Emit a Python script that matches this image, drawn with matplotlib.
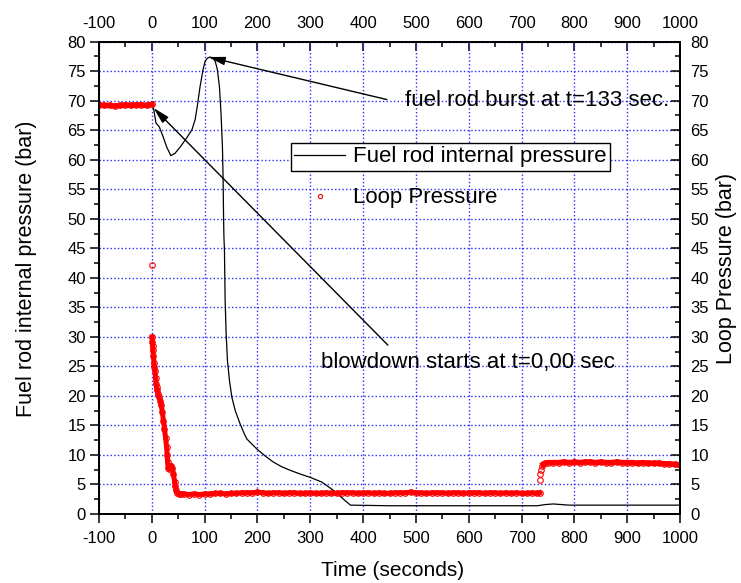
import numpy as np
import matplotlib
matplotlib.use('Agg')
from matplotlib import pyplot as plt
from matplotlib.ticker import MultipleLocator, FixedLocator

plt.rcParams['font.family'] = ['Liberation Sans', 'DejaVu Sans']
plt.rcParams['axes.unicode_minus'] = False

# fuel rod internal pressure (bar), black line
rod_t = [-100, 0, 3, 8, 14, 21, 28, 36, 44, 54, 66, 76, 82, 86, 91, 97, 101, 105, 110,
         115, 120, 124, 128, 131, 133.7, 135.0, 135.8, 136.5, 137.5, 138.8, 140.7, 143.2,
         147, 151.5, 158, 167, 175, 180, 190, 199, 215, 230, 246, 262, 280, 300, 322,
         344, 363, 376, 450, 550, 650, 730, 745, 760, 775, 790, 1000]
rod_p = [69.0, 69.0, 68.8, 66.2, 65.6, 64.0, 62.2, 60.7, 61.1, 62.2, 63.7, 65.1, 66.8,
         69.0, 72.2, 75.3, 76.7, 77.2, 77.4, 77.3, 76.7, 75.3, 72.4, 67.9, 62.2, 56.6,
         50.5, 47.0, 44.7, 36.2, 30.6, 26.0, 22.6, 19.8, 17.5, 15.3, 13.6, 12.7, 11.8,
         11.0, 9.8, 8.8, 8.0, 7.4, 6.8, 6.2, 5.4, 4.0, 2.5, 1.5, 1.4, 1.4, 1.4, 1.4,
         1.6, 1.7, 1.6, 1.5, 1.5]

# loop pressure (bar), red circles
pre_t = [-100, -90, -80, -70, -60, -50, -40, -30, -20, -10, 0]
pre_p = [69.3, 69.2, 69.2, 69.1, 69.2, 69.3, 69.2, 69.3, 69.3, 69.2, 69.4]

spike_t = [0.5]
spike_p = [42.2]

blow_t = [0.5, 1, 1.5, 2, 3, 4, 5, 6, 7, 8, 9, 10, 12, 14, 16, 18, 20, 22, 24, 26, 28,
          29, 30, 31, 33, 35, 37, 39, 41, 43, 44, 46, 48, 52, 56] + list(range(60, 731, 10)) + [734]
blow_p = [30.0, 29.2, 28.5, 27.7, 26.8, 25.6, 24.9, 24.3, 23.0, 22.0, 21.5, 21.0, 20.3,
          19.8, 19.2, 18.4, 17.2, 15.8, 14.4, 12.9, 11.3, 10.0, 8.8, 7.8, 7.6, 8.2, 8.2,
          7.8, 6.8, 5.5, 4.8, 4.0, 3.6, 3.4, 3.4,
          3.4, 3.3, 3.4, 3.3, 3.4, 3.4, 3.5, 3.5, 3.4, 3.5, 3.5, 3.6, 3.6, 3.6, 3.7, 3.6,
          3.5, 3.6, 3.6, 3.5, 3.6, 3.6, 3.5, 3.5, 3.6, 3.5, 3.5, 3.6, 3.5, 3.5, 3.6, 3.6,
          3.6, 3.5, 3.6, 3.6, 3.5, 3.6, 3.5, 3.5, 3.6, 3.6, 3.6, 3.7, 3.6, 3.6, 3.5, 3.6,
          3.6, 3.6, 3.5, 3.6, 3.6, 3.5, 3.6, 3.6, 3.6, 3.5, 3.6, 3.6, 3.5, 3.6, 3.5, 3.6,
          3.5, 3.5, 3.6, 3.5, 3.6]

jump_t = [734.5, 735.2, 736.5, 738.5]
jump_p = [5.8, 6.7, 7.5, 8.1]

post_t = [741, 745, 750] + list(range(760, 1001, 10))
post_p = [8.4, 8.6, 8.7, 8.7, 8.7, 8.8, 8.7, 8.8, 8.7, 8.8, 8.8, 8.7, 8.8, 8.7, 8.7, 8.8,
          8.7, 8.7, 8.7, 8.6, 8.7, 8.6, 8.6, 8.6, 8.5, 8.5, 8.4, 8.3]

x_ticks = list(range(-100, 1001, 100))
y_ticks = list(range(0, 81, 5))

red = '#ff0000'

fig = plt.figure(figsize=(7.41, 5.83), dpi=100)
ax = fig.add_axes([99/741, 69/583, 581/741, 472.3/583])
ax2 = ax.twinx()

ax.set_axisbelow(True)
ax.grid(True, which='major', color='#2a2aff', linestyle=':', linewidth=1.0)

rod_line, = ax.plot(rod_t, rod_p, color='black', lw=0.9)

mk = dict(marker='o', mfc='none', mec=red, ms=4.0, mew=0.8)
ax2.plot(pre_t, pre_p, color=red, lw=4.0, **mk)
ax2.plot(spike_t, spike_p, ls='none', **mk)
ax2.plot(blow_t, blow_p, color=red, lw=3.6, **mk)
ax2.plot(jump_t, jump_p, ls='none', **mk)
ax2.plot(post_t, post_p, color=red, lw=4.0, **mk)
loop_handle, = ax2.plot([], [], ls='none', marker='o', mfc='none', mec=red, ms=3.0, mew=0.8)

for a in (ax, ax2):
    a.set_xlim(-100, 1000)
    a.set_ylim(0, 80)
    a.set_yticks(y_ticks)
    a.yaxis.set_minor_locator(MultipleLocator(2.5))
ax.set_xticks(x_ticks)
ax.xaxis.set_minor_locator(MultipleLocator(50))

ax.tick_params(which='major', direction='out', length=6.5, width=1.1, labelsize=12, pad=3)
ax.tick_params(which='minor', direction='out', length=3.3, width=1.1)
ax.tick_params(axis='x', which='major', pad=5.5)
ax2.tick_params(which='major', direction='in', length=6.5, width=1.1, labelsize=12, pad=7.5)
ax2.tick_params(which='minor', direction='in', length=3.3, width=1.1)

top = ax.secondary_xaxis('top')
top.set_xticks(x_ticks)
top.xaxis.set_minor_locator(FixedLocator(list(range(-50, 1000, 100))))
top.tick_params(which='major', direction='in', length=6.5, width=1.1, labelsize=12, pad=7.5)
top.tick_params(which='minor', direction='in', length=3.3, width=1.1)

for a in (ax, ax2, top):
    for s in a.spines.values():
        s.set_linewidth(1.4)

ax.set_xlabel('Time (seconds)', fontsize=15)
ax.xaxis.set_label_coords(0.505, -0.10)
ax.set_ylabel('Fuel rod internal pressure (bar)', fontsize=15.5)
ax.yaxis.set_label_coords(-0.107, 0.52)
ax2.set_ylabel('Loop Pressure (bar)', fontsize=15.5)
ax2.yaxis.set_label_coords(1.062, 0.52)

arrow = dict(arrowstyle='-|>,head_length=1.0,head_width=0.25', color='black', lw=1.0,
             shrinkA=0, shrinkB=0, mutation_scale=10)
ax.annotate('', xy=(107, 77.4), xytext=(445, 70.2), arrowprops=arrow)
ax.text(479.5, 70.0, 'fuel rod burst at t=133 sec.', fontsize=16, va='center', ha='left')
ax.annotate('', xy=(3, 68.8), xytext=(447, 28.6), arrowprops=arrow)
ax.text(320, 25.6, 'blowdown starts at t=0,00 sec', fontsize=16, va='center', ha='left')

leg_kw = dict(loc='upper left', bbox_transform=fig.transFigure, borderpad=0.15,
              borderaxespad=0, handlelength=2.3, handletextpad=0.35, fontsize=16)
leg1 = ax2.legend([rod_line], ['Fuel rod internal pressure'], bbox_to_anchor=(291/741, 1-143/583),
                  frameon=True, fancybox=False, edgecolor='black', framealpha=1, **leg_kw)
leg1.get_frame().set_linewidth(1.0)
ax2.add_artist(leg1)
leg2 = ax2.legend([loop_handle], ['Loop Pressure'], bbox_to_anchor=(291/741, 1-184/583),
                  frameon=False, numpoints=1, **leg_kw)

fig.savefig('out.png', dpi=100)
